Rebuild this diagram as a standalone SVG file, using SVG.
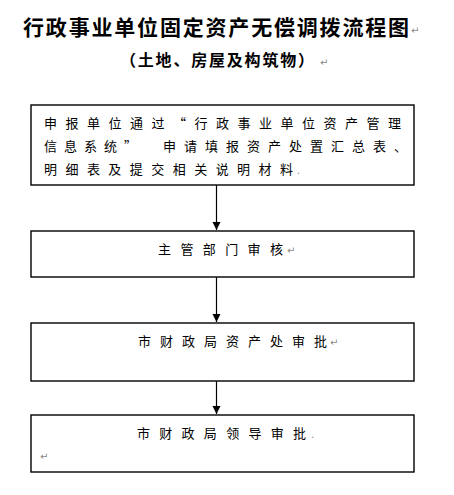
<svg xmlns="http://www.w3.org/2000/svg" width="454" height="495" viewBox="0 0 454 495">
<defs>
<marker id="ah" markerWidth="8" markerHeight="10" refX="8" refY="4" orient="auto" markerUnits="userSpaceOnUse">
<path d="M0,0 L8,4 L0,8 Z" fill="#000"/>
</marker>
<style>
.box{fill:#fff;stroke:#000;stroke-width:1.4}
.t{font-family:"Noto Sans CJK SC","Noto Sans",sans-serif;font-size:13px;fill:#000}
.h{font-family:"Noto Sans CJK SC","Noto Sans",sans-serif;font-weight:bold;fill:#000}
.pm{font-family:"DejaVu Sans",sans-serif;font-size:10px;fill:#888}
.c{stroke:#000;stroke-width:1.2;fill:none}
</style>
</defs>
<rect width="454" height="495" fill="#fff"/>
<g id="title">
<text class="h" x="23" y="35" font-size="21" textLength="386" lengthAdjust="spacing">行政事业单位固定资产无偿调拨流程图</text>
<text class="pm" x="411" y="34">↵</text>
<text class="h" x="120" y="66" font-size="16" textLength="194" lengthAdjust="spacing">（土地、房屋及构筑物）</text>
<text class="pm" x="320" y="66">↵</text>
</g>
<g id="n1">
<rect class="box" x="31" y="105" width="383" height="80"/>
<text class="t" x="44" y="128" textLength="357" lengthAdjust="spacing">申报单位通过“行政事业单位资产管理</text>
<text class="t" x="44" y="151" textLength="93" lengthAdjust="spacing">信息系统”</text>
<text class="t" x="163" y="151" textLength="244" lengthAdjust="spacing">申请填报资产处置汇总表、</text>
<text class="t" x="44" y="174" textLength="249" lengthAdjust="spacing">明细表及提交相关说明材料</text>
<text class="pm" x="297" y="174" font-size="7">.</text>
</g>
<g id="n2">
<rect class="box" x="31" y="231" width="383" height="46"/>
<text class="t" x="158" y="254" textLength="125" lengthAdjust="spacing">主管部门审核</text>
<text class="pm" x="287" y="254">↵</text>
</g>
<g id="n3">
<rect class="box" x="31" y="323" width="383" height="58"/>
<text class="t" x="138" y="346" textLength="189" lengthAdjust="spacing">市财政局资产处审批</text>
<text class="pm" x="330" y="346">↵</text>
</g>
<g id="n4">
<rect class="box" x="31" y="415" width="383" height="57"/>
<text class="t" x="137" y="438" textLength="169" lengthAdjust="spacing">市财政局领导审批</text>
<text class="pm" x="311" y="438" font-size="7">.</text>
<text class="pm" x="40" y="460">↵</text>
</g>
<g id="connectors">
<line class="c" x1="216.5" y1="185" x2="216.5" y2="230" marker-end="url(#ah)"/>
<line class="c" x1="216.5" y1="277" x2="216.5" y2="322" marker-end="url(#ah)"/>
<line class="c" x1="216.5" y1="381" x2="216.5" y2="414" marker-end="url(#ah)"/>
</g>
</svg>
